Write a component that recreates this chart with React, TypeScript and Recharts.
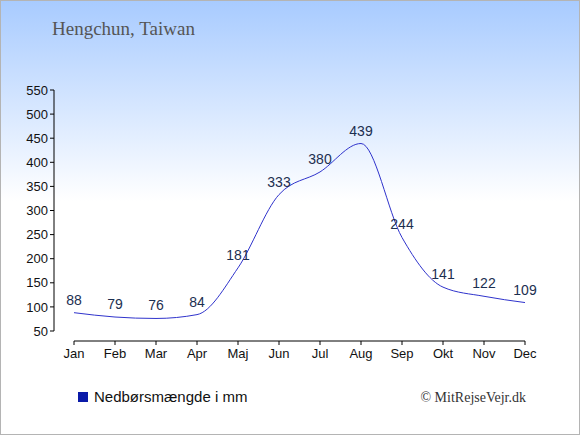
import React from 'react';
import { LineChart, Line, XAxis, YAxis, LabelList, ReferenceLine, Legend } from 'recharts';

const months = ['Jan', 'Feb', 'Mar', 'Apr', 'Maj', 'Jun', 'Jul', 'Aug', 'Sep', 'Okt', 'Nov', 'Dec'];
const rainfall = [88, 79, 76, 84, 181, 333, 380, 439, 244, 141, 122, 109];
const yTicks = [50, 100, 150, 200, 250, 300, 350, 400, 450, 500, 550];

const seriesName = 'Nedbørsmængde i mm';
const title = 'Hengchun, Taiwan';
const credit = '© MitRejseVejr.dk';

const data = months.map((m, i) => ({ month: m, value: rainfall[i] }));

const XTick = (props: any) => {
  const { x, y, payload } = props;
  return (
    <g>
      <line x1={x} y1={y + 10} x2={x} y2={y + 14} stroke="#000" strokeWidth={1} />
      <text x={x} y={y + 27} textAnchor="middle" fontSize={13} fill="#111" fontFamily="'Liberation Sans', Arial, sans-serif">
        {payload.value}
      </text>
    </g>
  );
};

const AxisLineShape = (props: any) => {
  const { x1, y1, x2, y2 } = props;
  return <line x1={x1} y1={y1 + 10} x2={x2} y2={y2 + 10} stroke="#000" strokeWidth={1} />;
};

const LegendContent = () => (
  <div style={{ display: 'flex', alignItems: 'center', fontFamily: "'Liberation Sans', Arial, sans-serif", fontSize: 15, color: '#111', whiteSpace: 'nowrap' }}>
    <span style={{ display: 'inline-block', width: 10, height: 10, background: '#0a1aa8', marginRight: 6 }} />
    <span>{seriesName}</span>
  </div>
);

export default function App() {
  return (
    <div
      style={{
        position: 'absolute',
        left: 0,
        top: 0,
        width: 580,
        height: 435,
        boxSizing: 'border-box',
        border: '1px solid #b4b4b4',
        background: 'linear-gradient(to bottom, #a8cbff 0px, #ffffff 200px, #ffffff 435px)',
        overflow: 'hidden',
      }}
    >
      <div
        style={{
          position: 'absolute',
          left: 51,
          top: 17,
          fontFamily: "'Liberation Serif', 'Times New Roman', serif",
          fontSize: 19,
          color: '#555',
          whiteSpace: 'nowrap',
        }}
      >
        {title}
      </div>
      <div
        style={{
          position: 'absolute',
          right: 53,
          top: 389,
          fontFamily: "'Liberation Serif', 'Times New Roman', serif",
          fontSize: 14,
          color: '#333',
          whiteSpace: 'nowrap',
        }}
      >
        {credit}
      </div>
      <div style={{ position: 'absolute', left: -1, top: -1 }}>
        <LineChart width={580} height={435} data={data} margin={{ top: 90, right: 55, bottom: 74, left: 0 }}>
          <XAxis
            dataKey="month"
            axisLine={false}
            tickLine={false}
            tickSize={0}
            tickMargin={0}
            height={30}
            padding={{ left: 20, right: 0 }}
            tick={<XTick />}
            interval={0}
          />
          <YAxis
            domain={[50, 550]}
            ticks={yTicks}
            width={54}
            axisLine={{ stroke: '#000' }}
            tickLine={{ stroke: '#000' }}
            tickSize={4}
            tickMargin={2}
            interval={0}
            tick={{ fontSize: 13, fill: '#111', fontFamily: "'Liberation Sans', Arial, sans-serif" }}
          />
          <ReferenceLine
            segment={[{ x: months[0], y: yTicks[0] }, { x: months[months.length - 1], y: yTicks[0] }]}
            shape={<AxisLineShape />}
            ifOverflow="visible"
          />
          <Legend
            layout="horizontal"
            verticalAlign="middle"
            align="center"
            content={<LegendContent />}
            wrapperStyle={{ position: 'absolute', left: 78, top: 388, width: 'auto' }}
          />
          <Line
            type="monotone"
            dataKey="value"
            name={seriesName}
            stroke="#2f33cc"
            strokeWidth={1}
            dot={false}
            activeDot={false}
            isAnimationActive={false}
          >
            <LabelList
              dataKey="value"
              position="top"
              offset={8}
              fontSize={14}
              fill="#1c2f50"
              fontFamily="'Liberation Sans', Arial, sans-serif"
            />
          </Line>
        </LineChart>
      </div>
    </div>
  );
}
